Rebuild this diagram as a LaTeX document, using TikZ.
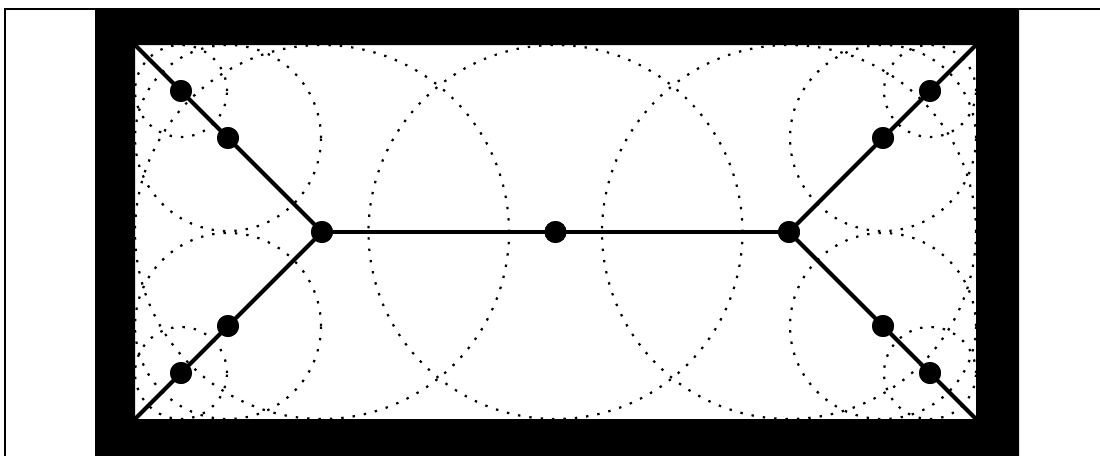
\documentclass[tikz,border=0pt]{standalone}
\begin{document}
\begin{tikzpicture}[x=1pt,y=-1pt,
  dotnode/.style={circle,fill=black,inner sep=0pt,minimum size=22pt},
  skel/.style={line width=4pt},
  disc/.style={line width=2.2pt,dash pattern=on 2.4pt off 9pt},
  frameline/.style={line width=2pt}]
\useasboundingbox (0,0) rectangle (1100,455);
% thin outer frame
\draw[frameline] (5,470) -- (5,9) -- (1110,9);
% thick black frame
\fill[black] (95,9) rectangle (1019,470);
\fill[white] (135,45) rectangle (976,419);
% corners
\coordinate (tl) at (135,45);
\coordinate (bl) at (135,419);
\coordinate (tr) at (976,45);
\coordinate (br) at (976,419);
% dots (centres of maximal discs)
\node[dotnode] (a1) at (181,91) {};
\node[dotnode] (a2) at (228,138) {};
\node[dotnode] (b1) at (181,373) {};
\node[dotnode] (b2) at (228,326) {};
\node[dotnode] (jl) at (322,232) {};
\node[dotnode] (m)  at (555.5,232) {};
\node[dotnode] (jr) at (789,232) {};
\node[dotnode] (c1) at (930,91) {};
\node[dotnode] (c2) at (883,138) {};
\node[dotnode] (d1) at (930,373) {};
\node[dotnode] (d2) at (883,326) {};
% dotted maximal discs
\draw[disc] (a1) circle (46pt);
\draw[disc] (a2) circle (93pt);
\draw[disc] (b1) circle (46pt);
\draw[disc] (b2) circle (93pt);
\draw[disc] (jl) circle (187pt);
\draw[disc] (m)  circle (187pt);
\draw[disc] (jr) circle (187pt);
\draw[disc] (c1) circle (46pt);
\draw[disc] (c2) circle (93pt);
\draw[disc] (d1) circle (46pt);
\draw[disc] (d2) circle (93pt);
% skeleton
\draw[skel] (tl) -- (jl.center);
\draw[skel] (bl) -- (jl.center);
\draw[skel] (jl.center) -- (jr.center);
\draw[skel] (jr.center) -- (tr);
\draw[skel] (jr.center) -- (br);
% redraw dots on top
\foreach \n in {a1,a2,b1,b2,jl,m,jr,c1,c2,d1,d2}
  \fill (\n) circle (11pt);
% re-mask black frame edges over circle overflow
\fill[black,even odd rule] (95,9) rectangle (1019,470) (135,45) rectangle (976,419);
\end{tikzpicture}
\end{document}
